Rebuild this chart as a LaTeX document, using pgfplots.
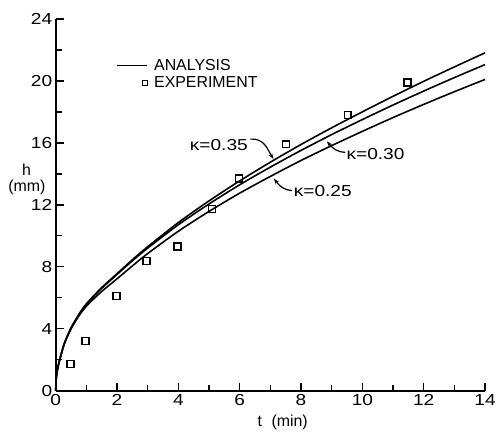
\documentclass[border=0pt]{standalone}
\usepackage{fontspec}
\setmainfont{Liberation Sans}
\newfontfamily\numfont{Liberation Sans}[FakeStretch=1.2]
\usepackage{pgfplots}
\pgfplotsset{compat=1.18}
\usetikzlibrary{arrows.meta}
\newcommand{\lbfont}{\fontsize{16}{18}\selectfont}
\newcommand{\nbfont}{\fontsize{16}{18}\numfont}
\begin{document}
\begin{tikzpicture}
\begin{axis}[
  name=ax,
  scale only axis, width=432pt, height=374pt,
  xmin=0, xmax=14, ymin=0, ymax=24,
  axis x line*=bottom, axis y line*=left,
  axis line style={line width=2.2pt, black},
  xtick={0,2,...,14}, ytick={0,4,...,24},
  minor x tick num=1, minor y tick num=1,
  major tick length=8pt, minor tick length=6pt,
  tick style={line width=1.5pt, black},
  tick label style={font=\nbfont},
  /pgf/number format/assume math mode=true,
  clip=false,
  legend cell align=left,
  legend style={at={(0.1414,0.8517)}, anchor=west, draw=none, fill=none,
    inner sep=0pt, row sep=1pt, font=\lbfont,
    nodes={inner sep=2pt, font=\lbfont}},
]
\addlegendimage{black, line width=1.6pt,
  legend image code/.code={\path[draw=none] (0pt,0pt) -- (35pt,0pt);
    \draw[black, line width=1.6pt] (0pt,0pt) -- (30pt,0pt);}}
\addlegendentry{ANALYSIS}
\addlegendimage{black, only marks, mark=square,
  legend image code/.code={\path[draw=none] (0pt,0pt) -- (35pt,0pt);
    \draw[black, line width=1.2pt, mark=square, mark size=2.6pt] plot coordinates {(28pt,0pt)};}}
\addlegendentry{EXPERIMENT}
\addplot[black, line width=1.6pt, smooth, forget plot]
  coordinates {(0,0)(0.02,0.8)(0.05,1.25)(0.1,1.75)(0.2,2.5)(0.3,3.15)(0.5,4.05)(0.75,4.9)(1,5.6)(1.5,6.65)(2,7.55)(2.5,8.45)(3,9.29)(4,10.85)(5,12.25)(6,13.54)(7,14.75)(8,15.89)(9,16.97)(10,18.0)(11,19.0)(12,19.97)(13,20.9)(14,21.81)};
\addplot[black, only marks, mark=square, mark size=3.5pt, mark options={line width=1.3pt}, forget plot]
  coordinates {(0.48,1.7)(0.97,3.2)(1.98,6.13)(2.96,8.35)(3.97,9.31)(5.1,11.73)(5.97,13.7)(7.51,15.9)(9.52,17.8)(11.47,19.9)};
\addplot[black, line width=1.6pt, smooth, forget plot]
  coordinates {(0,0)(0.02,0.8)(0.05,1.25)(0.1,1.75)(0.2,2.5)(0.3,3.13)(0.5,4.03)(0.75,4.87)(1,5.57)(1.5,6.6)(2,7.5)(2.5,8.38)(3,9.2)(4,10.71)(5,12.05)(6,13.29)(7,14.43)(8,15.51)(9,16.53)(10,17.5)(11,18.44)(12,19.34)(13,20.21)(14,21.05)};
\addplot[black, line width=1.6pt, smooth, forget plot]
  coordinates {(0,0)(0.02,0.8)(0.05,1.25)(0.1,1.74)(0.2,2.48)(0.3,3.1)(0.5,3.98)(0.75,4.8)(1,5.45)(1.5,6.4)(2,7.22)(2.5,8.05)(3,8.85)(4,10.29)(5,11.57)(6,12.75)(7,13.83)(8,14.86)(9,15.82)(10,16.74)(11,17.63)(12,18.48)(13,19.3)(14,20.09)};
% kappa annotations
\node[anchor=east, inner sep=0pt, font=\nbfont] at (axis cs:6.27,15.85) {κ=0.35};
\draw[line width=1.2pt, -{Stealth[length=6pt,width=4pt]}] (axis cs:6.35,16.24) .. controls (axis cs:6.8,16.3) and (axis cs:6.9,15.6) .. (axis cs:7.1,14.95);
\node[anchor=west, inner sep=0pt, font=\nbfont] at (axis cs:9.48,15.28) {κ=0.30};
\draw[line width=1.2pt, -{Stealth[length=6pt,width=4pt]}] (axis cs:9.44,15.38) .. controls (axis cs:9.2,15.4) and (axis cs:9.05,15.6) .. (axis cs:8.84,16.1);
\node[anchor=west, inner sep=0pt, font=\nbfont] at (axis cs:7.76,12.86) {κ=0.25};
\draw[line width=1.2pt, -{Stealth[length=6pt,width=4pt]}] (axis cs:7.70,12.92) .. controls (axis cs:7.45,12.95) and (axis cs:7.3,13.2) .. (axis cs:7.11,13.7);
% axis labels
\node[font=\lbfont] at (axis cs:-0.95,14.25) {h};
\node[font=\lbfont] at (axis cs:-0.94,13.1) {(mm)};
\node[font=\lbfont] at (axis cs:7.4,-2.05) {t\hspace{0.6em}(min)};
\end{axis}
\pgfresetboundingbox
\path ([shift={(-56pt,-48pt)}]ax.south west) rectangle ([shift={(11pt,19pt)}]ax.north east);
\end{tikzpicture}
\end{document}
